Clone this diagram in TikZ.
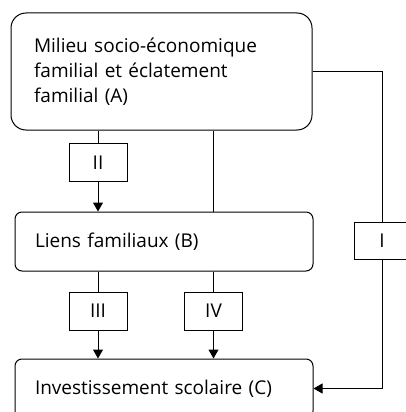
\documentclass[tikz,border=0pt]{standalone}
\usepackage{fontspec}
\setmainfont{Open Sans}
\usetikzlibrary{arrows.meta}

\begin{document}
\begin{tikzpicture}[x=1pt, y=-1pt, line width=1pt,
        mainbox/.style={draw, rounded corners=7pt, align=left, inner xsep=20pt, inner ysep=0pt,
            font=\fontsize{19}{25}\selectfont},
        pathbox/.style={draw, minimum width=58pt, minimum height=38pt, inner sep=0pt,
            font=\fontsize{19}{20}\selectfont},
        arr/.style={-{Triangle[width=10pt,length=9pt]}}]
    \useasboundingbox (0,0) rectangle (406,412);
    \clip (0,0) rectangle (406,412);
    % the three blocks
    \node[mainbox, rounded corners=15pt, inner xsep=23pt, text width=255pt, minimum height=117pt] (A) at (161.5,71.5)
        {Milieu socio-économique\\familial et éclatement\\familial (A)};
    \node[mainbox, text width=258pt, minimum height=59pt] (B) at (164,241.5) {Liens familiaux (B)};
    \node[mainbox, text width=258pt, minimum height=59pt] (C) at (164,388.5) {Investissement scolaire (C)};
    % the paths
    \node[pathbox] (II) at (98,162.5) {II};
    \node[pathbox] (III) at (98,311) {III};
    \node[pathbox] (IV) at (213.5,311) {IV};
    \node[pathbox, minimum width=56pt, minimum height=37pt] (I) at (382,240.5) {I};
    \draw (A.south -| II.north) -- (II.north);
    \draw[arr] (II.south) -- (II.south |- B.north);
    \draw (A.south -| IV.north) -- (IV.north |- B.north);
    \draw (B.south -| IV.north) -- (IV.north);
    \draw[arr] (IV.south) -- (IV.south |- C.north);
    \draw (B.south -| III.north) -- (III.north);
    \draw[arr] (III.south) -- (III.south |- C.north);
    \draw (A.east) -- (A.east -| I.north) -- (I.north);
    \draw[arr] (I.south) |- (C.east);
\end{tikzpicture}
\end{document}
